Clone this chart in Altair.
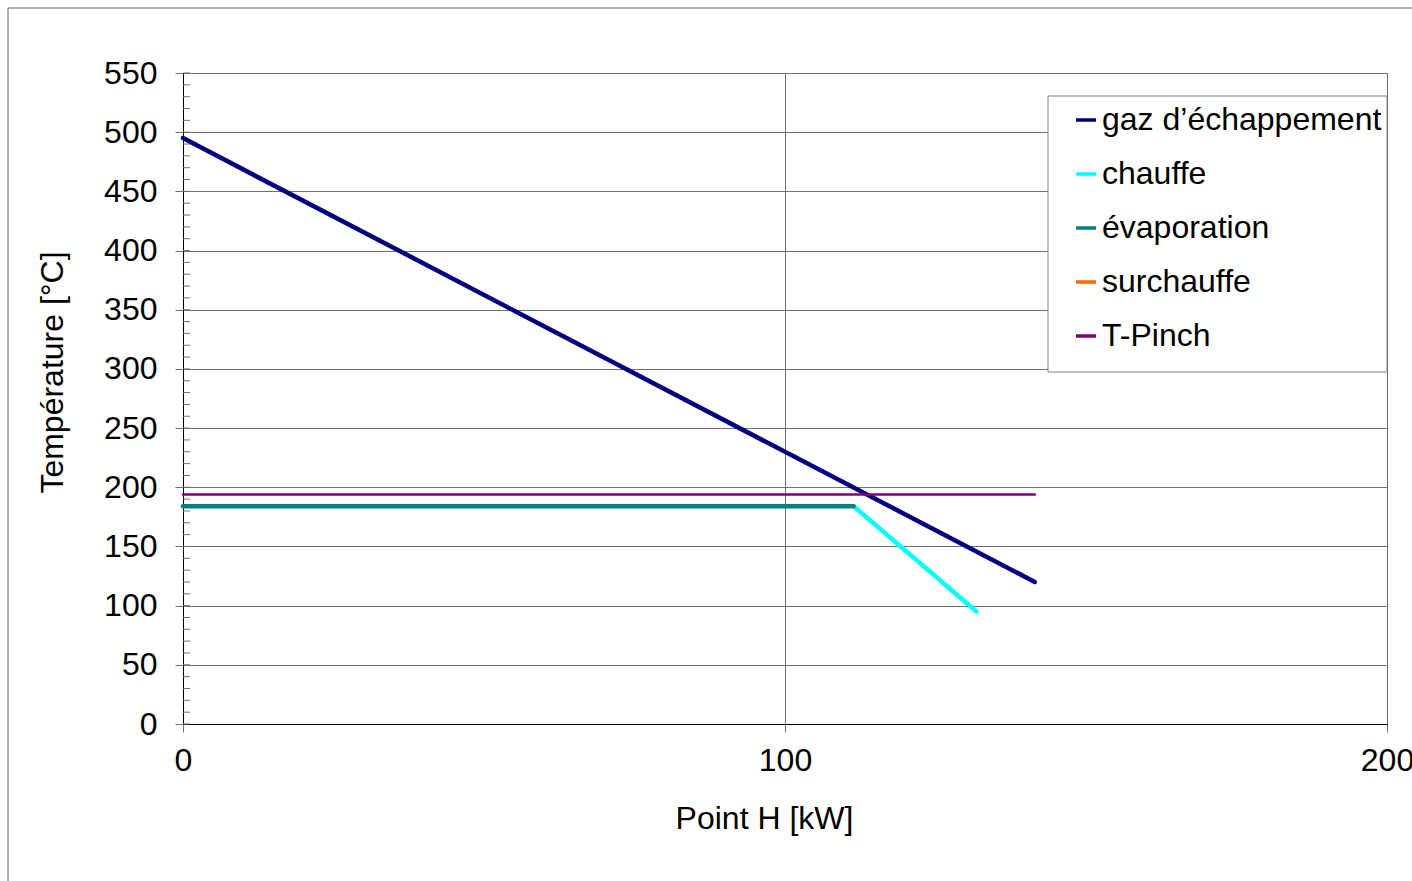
import altair as alt
import pandas as pd

# ---- data ----
series_names = ["gaz d’échappement", "chauffe", "évaporation", "surchauffe", "T-Pinch"]
series_colors = ["#000080", "#00FFFF", "#008080", "#FF6600", "#800080"]
series_widths = [4.5, 4.5, 4.5, 4.5, 2.5]

gaz_x = [0, 141.5]
gaz_y = [495, 120]
chauffe_x = [111.4, 131.8]
chauffe_y = [184, 95]
evap_x = [0, 111.4]
evap_y = [184, 184]
surch_x = []
surch_y = []
pinch_x = [0, 141.5]
pinch_y = [194, 194]

y_major = list(range(0, 551, 50))
y_minor = list(range(0, 551, 10))
x_ticks = [0, 100, 200]

all_xy = [
    (gaz_x, gaz_y),
    (chauffe_x, chauffe_y),
    (evap_x, evap_y),
    (surch_x, surch_y),
    (pinch_x, pinch_y),
]

FONT = "Liberation Sans"
FS = 32
W, H = 1204, 651

xscale = alt.Scale(domain=[0, 200], nice=False, zero=False)
yscale = alt.Scale(domain=[0, 550], nice=False, zero=False)
cscale = alt.Scale(domain=series_names, range=series_colors)

xaxis = alt.Axis(values=x_ticks, title="Point H [kW]", grid=True,
                 gridColor="#707070", gridWidth=1, tickSize=8,
                 tickColor="#707070", domainColor="#000000",
                 labelFontSize=FS, labelFont=FONT, labelColor="#000000",
                 labelPadding=13, labelFlush=False, labelOverlap=False,
                 titleFontSize=FS, titleFont=FONT,
                 titleFontWeight="normal", titleColor="#000000",
                 titleX=581, titleY=94, titleBaseline="middle", format="d")
yaxis = alt.Axis(values=y_major, title="Température [°C]", grid=True,
                 gridColor="#707070", gridWidth=1, tickSize=8,
                 tickColor="#707070", domainColor="#000000",
                 labelFontSize=FS, labelFont=FONT, labelColor="#000000",
                 labelPadding=18, titleFontSize=FS, titleFont=FONT,
                 titleFontWeight="normal", titleColor="#000000",
                 titleX=-131, titleY=299, titleBaseline="middle",
                 titleAngle=270, titleAlign="center", format="d")

legend = alt.Legend(title=None, orient="none", legendX=887, legendY=31,
                    symbolType="stroke", symbolStrokeWidth=3.5,
                    symbolSize=400, labelFontSize=FS, labelFont=FONT,
                    labelColor="#000000", rowPadding=22,
                    labelOffset=0, padding=0, labelLimit=500)

layers = []

frame = alt.Chart(pd.DataFrame({"a": [0]})).mark_rect(
    fill=None, stroke="#606060", strokeWidth=1
).encode(
    x=alt.value(8 - 183), y=alt.value(8 - 73),
    x2=alt.value(1412 - 183 + 20), y2=alt.value(881 - 73 + 20),
)
layers.append(frame)

minor = alt.Chart(pd.DataFrame({"T": y_minor})).mark_rule(
    color="#707070", strokeWidth=1
).encode(
    y=alt.Y("T:Q", scale=yscale, axis=yaxis),
    x=alt.value(0),
    x2=alt.value(7),
)
layers.append(minor)

legend_box = alt.Chart(pd.DataFrame({"a": [0]})).mark_rect(
    fill="#FFFFFF", stroke="#808080", strokeWidth=1
).encode(
    x=alt.value(1048 - 183), y=alt.value(96 - 73),
    x2=alt.value(1387 - 183), y2=alt.value(372 - 73),
)
layers.append(legend_box)

for name, color, width, (xs, ys) in zip(series_names, series_colors, series_widths, all_xy):
    d = pd.DataFrame({"H": xs, "T": ys, "serie": [name] * len(xs),
                      "ordre": list(range(len(xs)))})
    if d.empty:
        d = pd.DataFrame({"H": [None], "T": [None], "serie": [name], "ordre": [0]})
    layers.append(
        alt.Chart(d).mark_line(strokeCap="round", strokeJoin="round",
                               strokeWidth=width).encode(
            x=alt.X("H:Q", scale=xscale, axis=xaxis),
            y=alt.Y("T:Q", scale=yscale, axis=yaxis),
            color=alt.Color("serie:N", scale=cscale, legend=legend),
            order="ordre:Q",
        )
    )

chart = alt.layer(*layers).properties(
    width=W, height=H,
    autosize=alt.AutoSizeParams(type="none"),
    padding={"left": 183, "top": 73, "right": 25, "bottom": 157},
    background="#FFFFFF",
).configure_view(stroke="#707070", strokeWidth=1)

chart.save("out.html", embed_options={"renderer": "svg", "actions": False})
